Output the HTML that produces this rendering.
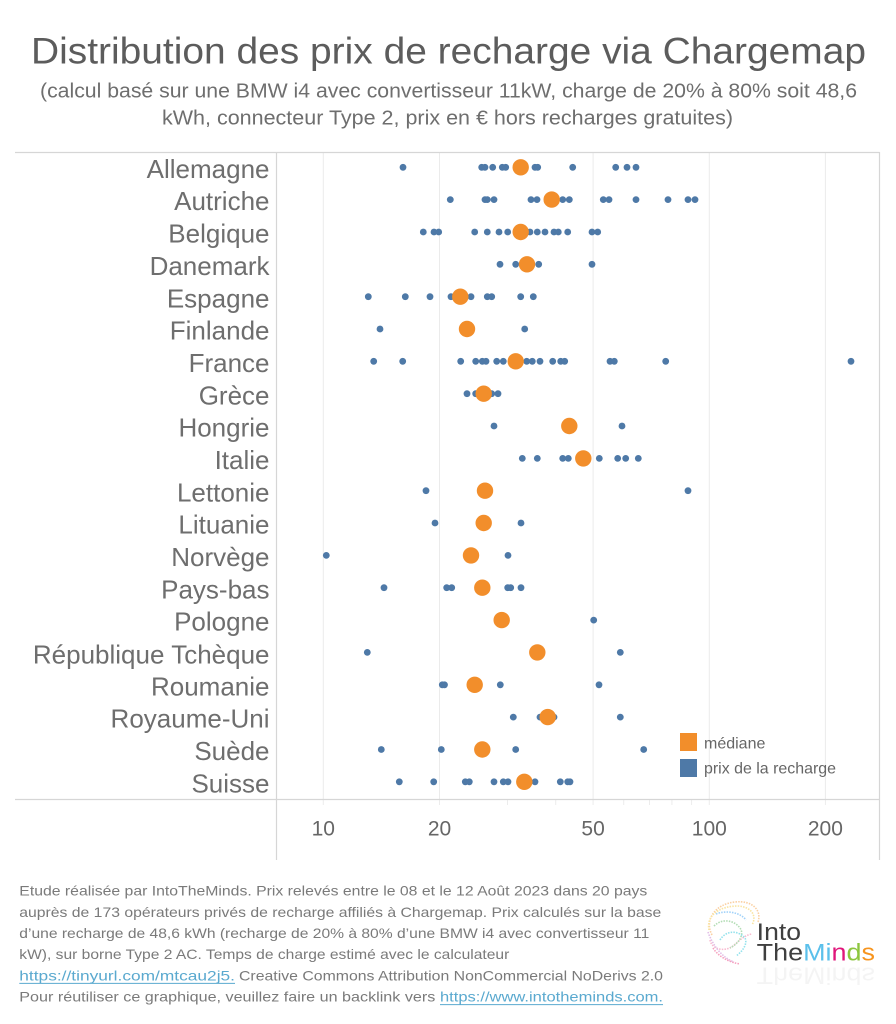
<!DOCTYPE html>
<html><head><meta charset="utf-8"><style>
html,body{margin:0;padding:0;background:#fff;}
svg{display:block;}
text{font-family:"Liberation Sans",sans-serif;}
</style></head><body>
<svg width="896" height="1024" viewBox="0 0 896 1024" xmlns="http://www.w3.org/2000/svg">
<rect width="896" height="1024" fill="#fff"/>
<!-- Title -->
<text x="31" y="63.3" font-size="37" fill="#5c5c5c" textLength="835" lengthAdjust="spacingAndGlyphs">Distribution des prix de recharge via Chargemap</text>
<text x="40" y="97.3" font-size="20" fill="#6e6e6e" textLength="817" lengthAdjust="spacingAndGlyphs">(calcul basé sur une BMW i4 avec convertisseur 11kW, charge de 20% à 80% soit 48,6</text>
<text x="162" y="124.5" font-size="20" fill="#6e6e6e" textLength="571" lengthAdjust="spacingAndGlyphs">kWh, connecteur Type 2, prix en € hors recharges gratuites)</text>

<!-- gridlines -->
<g stroke="#ebebeb" stroke-width="1">
<line x1="323.3" y1="153" x2="323.3" y2="799"/>
<line x1="439.5" y1="153" x2="439.5" y2="799"/>
<line x1="593.1" y1="153" x2="593.1" y2="799"/>
<line x1="709.3" y1="153" x2="709.3" y2="799"/>
<line x1="825.4" y1="153" x2="825.4" y2="799"/>
</g>
<!-- minor ticks on axis -->
<g stroke="#ececec" stroke-width="1">
<line x1="323.3" y1="800" x2="323.3" y2="805"/>
<line x1="439.5" y1="800" x2="439.5" y2="805"/>
<line x1="507.5" y1="800" x2="507.5" y2="805"/>
<line x1="555.7" y1="800" x2="555.7" y2="805"/>
<line x1="593.1" y1="800" x2="593.1" y2="805"/>
<line x1="623.7" y1="800" x2="623.7" y2="805"/>
<line x1="649.5" y1="800" x2="649.5" y2="805"/>
<line x1="671.9" y1="800" x2="671.9" y2="805"/>
<line x1="691.6" y1="800" x2="691.6" y2="805"/>
<line x1="709.3" y1="800" x2="709.3" y2="805"/>
<line x1="825.4" y1="800" x2="825.4" y2="805"/>
</g>
<!-- frame -->
<g stroke="#d6d6d6" stroke-width="1.2" fill="none">
<line x1="15" y1="152.5" x2="879.5" y2="152.5"/>
<line x1="15" y1="799.5" x2="879.5" y2="799.5"/>
<line x1="276.5" y1="152" x2="276.5" y2="860"/>
<line x1="879.5" y1="152" x2="879.5" y2="860"/>
</g>

<!-- Country labels -->
<g font-size="26" fill="#6e6e6e" text-anchor="end">
<text x="269.5" y="177.9">Allemagne</text>
<text x="269.5" y="210.2">Autriche</text>
<text x="269.5" y="242.6">Belgique</text>
<text x="269.5" y="274.9">Danemark</text>
<text x="269.5" y="307.3">Espagne</text>
<text x="269.5" y="339.6">Finlande</text>
<text x="269.5" y="371.9">France</text>
<text x="269.5" y="404.3">Grèce</text>
<text x="269.5" y="436.6">Hongrie</text>
<text x="269.5" y="469.0">Italie</text>
<text x="269.5" y="501.3">Lettonie</text>
<text x="269.5" y="533.6">Lituanie</text>
<text x="269.5" y="566.0">Norvège</text>
<text x="269.5" y="598.3">Pays-bas</text>
<text x="269.5" y="630.7">Pologne</text>
<text x="269.5" y="663.3">République Tchèque</text>
<text x="269.5" y="695.3">Roumanie</text>
<text x="269.5" y="727.7">Royaume-Uni</text>
<text x="269.5" y="760.0">Suède</text>
<text x="269.5" y="792.3">Suisse</text>
</g>

<!-- blue dots -->
<g fill="#4e79a7">
<circle cx="403" cy="167.3" r="3.4"/><circle cx="481.7" cy="167.3" r="3.4"/><circle cx="485" cy="167.3" r="3.4"/><circle cx="492.7" cy="167.3" r="3.4"/><circle cx="502.3" cy="167.3" r="3.4"/><circle cx="505.7" cy="167.3" r="3.4"/><circle cx="535" cy="167.3" r="3.4"/><circle cx="537.7" cy="167.3" r="3.4"/><circle cx="572.7" cy="167.3" r="3.4"/><circle cx="615.7" cy="167.3" r="3.4"/><circle cx="627" cy="167.3" r="3.4"/><circle cx="636" cy="167.3" r="3.4"/>
<circle cx="450.3" cy="199.6" r="3.4"/><circle cx="485" cy="199.6" r="3.4"/><circle cx="487.3" cy="199.6" r="3.4"/><circle cx="494" cy="199.6" r="3.4"/><circle cx="531" cy="199.6" r="3.4"/><circle cx="537" cy="199.6" r="3.4"/><circle cx="562.7" cy="199.6" r="3.4"/><circle cx="569.3" cy="199.6" r="3.4"/><circle cx="603.3" cy="199.6" r="3.4"/><circle cx="609" cy="199.6" r="3.4"/><circle cx="636" cy="199.6" r="3.4"/><circle cx="668" cy="199.6" r="3.4"/><circle cx="688" cy="199.6" r="3.4"/><circle cx="695" cy="199.6" r="3.4"/>
<circle cx="423.3" cy="232" r="3.4"/><circle cx="434" cy="232" r="3.4"/><circle cx="438.7" cy="232" r="3.4"/><circle cx="474.7" cy="232" r="3.4"/><circle cx="487.3" cy="232" r="3.4"/><circle cx="499" cy="232" r="3.4"/><circle cx="507.7" cy="232" r="3.4"/><circle cx="530" cy="232" r="3.4"/><circle cx="537.3" cy="232" r="3.4"/><circle cx="545" cy="232" r="3.4"/><circle cx="554" cy="232" r="3.4"/><circle cx="558.3" cy="232" r="3.4"/><circle cx="567.7" cy="232" r="3.4"/><circle cx="592" cy="232" r="3.4"/><circle cx="597.7" cy="232" r="3.4"/>
<circle cx="500" cy="264.3" r="3.4"/><circle cx="515.7" cy="264.3" r="3.4"/><circle cx="538.7" cy="264.3" r="3.4"/><circle cx="592" cy="264.3" r="3.4"/>
<circle cx="368.3" cy="296.7" r="3.4"/><circle cx="405.3" cy="296.7" r="3.4"/><circle cx="430" cy="296.7" r="3.4"/><circle cx="451" cy="296.7" r="3.4"/><circle cx="471" cy="296.7" r="3.4"/><circle cx="487.3" cy="296.7" r="3.4"/><circle cx="491.7" cy="296.7" r="3.4"/><circle cx="520.7" cy="296.7" r="3.4"/><circle cx="533.3" cy="296.7" r="3.4"/>
<circle cx="380" cy="329" r="3.4"/><circle cx="524.7" cy="329" r="3.4"/>
<circle cx="373.7" cy="361.3" r="3.4"/><circle cx="402.7" cy="361.3" r="3.4"/><circle cx="460.7" cy="361.3" r="3.4"/><circle cx="475.7" cy="361.3" r="3.4"/><circle cx="482.3" cy="361.3" r="3.4"/><circle cx="486" cy="361.3" r="3.4"/><circle cx="496.7" cy="361.3" r="3.4"/><circle cx="503.3" cy="361.3" r="3.4"/><circle cx="526.7" cy="361.3" r="3.4"/><circle cx="532.3" cy="361.3" r="3.4"/><circle cx="540" cy="361.3" r="3.4"/><circle cx="552.7" cy="361.3" r="3.4"/><circle cx="560.7" cy="361.3" r="3.4"/><circle cx="564.7" cy="361.3" r="3.4"/><circle cx="610" cy="361.3" r="3.4"/><circle cx="614.3" cy="361.3" r="3.4"/><circle cx="665.7" cy="361.3" r="3.4"/><circle cx="851" cy="361.3" r="3.4"/>
<circle cx="467" cy="393.7" r="3.4"/><circle cx="475.7" cy="393.7" r="3.4"/><circle cx="491.7" cy="393.7" r="3.4"/><circle cx="498" cy="393.7" r="3.4"/>
<circle cx="494" cy="426" r="3.4"/><circle cx="622" cy="426" r="3.4"/>
<circle cx="522.3" cy="458.4" r="3.4"/><circle cx="537.3" cy="458.4" r="3.4"/><circle cx="562.7" cy="458.4" r="3.4"/><circle cx="568.3" cy="458.4" r="3.4"/><circle cx="599.3" cy="458.4" r="3.4"/><circle cx="617.7" cy="458.4" r="3.4"/><circle cx="625.7" cy="458.4" r="3.4"/><circle cx="638.3" cy="458.4" r="3.4"/>
<circle cx="426" cy="490.7" r="3.4"/><circle cx="688" cy="490.7" r="3.4"/>
<circle cx="435" cy="523" r="3.4"/><circle cx="521" cy="523" r="3.4"/>
<circle cx="326.3" cy="555.4" r="3.4"/><circle cx="508" cy="555.4" r="3.4"/>
<circle cx="384" cy="587.7" r="3.4"/><circle cx="446.7" cy="587.7" r="3.4"/><circle cx="451.7" cy="587.7" r="3.4"/><circle cx="507.7" cy="587.7" r="3.4"/><circle cx="510.7" cy="587.7" r="3.4"/><circle cx="521" cy="587.7" r="3.4"/>
<circle cx="593.7" cy="620.1" r="3.4"/>
<circle cx="367.3" cy="652.4" r="3.4"/><circle cx="620.3" cy="652.4" r="3.4"/>
<circle cx="442.3" cy="684.8" r="3.4"/><circle cx="444.5" cy="684.8" r="3.4"/><circle cx="500.3" cy="684.8" r="3.4"/><circle cx="599" cy="684.8" r="3.4"/>
<circle cx="513.3" cy="717.1" r="3.4"/><circle cx="540" cy="717.1" r="3.4"/><circle cx="554" cy="717.1" r="3.4"/><circle cx="620.3" cy="717.1" r="3.4"/>
<circle cx="381.3" cy="749.5" r="3.4"/><circle cx="441.3" cy="749.5" r="3.4"/><circle cx="515.7" cy="749.5" r="3.4"/><circle cx="643.7" cy="749.5" r="3.4"/>
<circle cx="399.3" cy="781.8" r="3.4"/><circle cx="433.7" cy="781.8" r="3.4"/><circle cx="465.3" cy="781.8" r="3.4"/><circle cx="469.3" cy="781.8" r="3.4"/><circle cx="494" cy="781.8" r="3.4"/><circle cx="503.3" cy="781.8" r="3.4"/><circle cx="508" cy="781.8" r="3.4"/><circle cx="535" cy="781.8" r="3.4"/><circle cx="560.3" cy="781.8" r="3.4"/><circle cx="567.7" cy="781.8" r="3.4"/><circle cx="570" cy="781.8" r="3.4"/>
</g>

<!-- medians -->
<g fill="#f28e2b">
<circle cx="520.7" cy="167.3" r="8.2"/>
<circle cx="551.7" cy="199.6" r="8.2"/>
<circle cx="520.7" cy="232" r="8.2"/>
<circle cx="527" cy="264.3" r="8.2"/>
<circle cx="460.3" cy="296.7" r="8.2"/>
<circle cx="467" cy="329" r="8.2"/>
<circle cx="515.7" cy="361.3" r="8.2"/>
<circle cx="483.7" cy="393.7" r="8.2"/>
<circle cx="569.3" cy="426" r="8.2"/>
<circle cx="583.3" cy="458.4" r="8.2"/>
<circle cx="485" cy="490.7" r="8.2"/>
<circle cx="483.7" cy="523" r="8.2"/>
<circle cx="471" cy="555.4" r="8.2"/>
<circle cx="482.3" cy="587.7" r="8.2"/>
<circle cx="501.7" cy="620.1" r="8.2"/>
<circle cx="537.3" cy="652.4" r="8.2"/>
<circle cx="474.7" cy="684.8" r="8.2"/>
<circle cx="547.7" cy="717.1" r="8.2"/>
<circle cx="482.3" cy="749.5" r="8.2"/>
<circle cx="524.3" cy="781.8" r="8.2"/>
</g>

<!-- Legend -->
<rect x="680" y="733" width="17" height="18" fill="#f28e2b"/>
<rect x="680" y="759" width="17" height="18" fill="#4e79a7"/>
<text x="704" y="748.3" font-size="16" fill="#666">médiane</text>
<text x="704" y="773.3" font-size="16" fill="#666" textLength="132" lengthAdjust="spacingAndGlyphs">prix de la recharge</text>

<!-- X axis labels -->
<g font-size="21" fill="#666" text-anchor="middle">
<text x="323.3" y="835.7">10</text>
<text x="439.5" y="835.7">20</text>
<text x="593.1" y="835.7">50</text>
<text x="709.3" y="835.7">100</text>
<text x="825.4" y="835.7">200</text>
</g>

<!-- Footer -->
<g font-size="14" fill="#7a7a7a">
<text x="19.3" y="895.5" textLength="628" lengthAdjust="spacingAndGlyphs">Etude réalisée par IntoTheMinds. Prix relevés entre le 08 et le 12 Août 2023 dans 20 pays</text>
<text x="19.3" y="916.8" textLength="642" lengthAdjust="spacingAndGlyphs">auprès de 173 opérateurs privés de recharge affiliés à Chargemap. Prix calculés sur la base</text>
<text x="19.3" y="938" textLength="630" lengthAdjust="spacingAndGlyphs">d’une recharge de 48,6 kWh (recharge de 20% à 80% d’une BMW i4 avec convertisseur 11</text>
<text x="19.3" y="959.2" textLength="490" lengthAdjust="spacingAndGlyphs">kW), sur borne Type 2 AC. Temps de charge estimé avec le calculateur</text>
<text x="19.3" y="980.4" fill="#5aa9cf" textLength="215.7" lengthAdjust="spacingAndGlyphs">https://tinyurl.com/mtcau2j5.</text>
<text x="239" y="980.4" textLength="424" lengthAdjust="spacingAndGlyphs">Creative Commons Attribution NonCommercial NoDerivs 2.0</text>
<text x="19.3" y="1001.6" textLength="416" lengthAdjust="spacingAndGlyphs">Pour réutiliser ce graphique, veuillez faire un backlink vers</text>
<text x="440" y="1001.6" fill="#5aa9cf" textLength="223" lengthAdjust="spacingAndGlyphs">https://www.intotheminds.com.</text>
</g>
<line x1="19.3" y1="983.4" x2="235" y2="983.4" stroke="#5aa9cf" stroke-width="1"/>
<line x1="440" y1="1004.6" x2="663" y2="1004.6" stroke="#5aa9cf" stroke-width="1"/>

<!-- Logo -->
<g fill="none" stroke-width="1.6" stroke-dasharray="1.5 1.2" opacity="0.6">
<path d="M712 935 C704 920 715 904 735 902 C752 900 762 910 758 922" stroke="#f7b267"/>
<path d="M709 930 C706 915 720 906 738 906 C752 907 757 916 752 925" stroke="#f6d365"/>
<path d="M710 940 C712 950 725 952 733 946 C740 940 745 935 752 934" stroke="#f48fb1"/>
<path d="M714 926 C722 918 734 920 740 928 C745 935 738 944 730 948" stroke="#81c784"/>
<path d="M708 932 C712 944 722 958 734 962" stroke="#ce93d8"/>
<path d="M716 914 C726 910 740 912 746 920" stroke="#64b5f6"/>
<path d="M720 940 C726 930 738 930 745 938 C748 944 742 952 736 956" stroke="#4dd0e1"/>
<path d="M713 948 C718 956 728 962 740 964" stroke="#f06292"/>
</g>
<text x="756.7" y="940" font-size="24" fill="#3f3f3f" textLength="44.3" lengthAdjust="spacingAndGlyphs">Into</text>
<text x="756.7" y="960.7" font-size="24" textLength="118.3" lengthAdjust="spacingAndGlyphs"><tspan fill="#3f3f3f">The</tspan><tspan fill="#5bc0eb">Mi</tspan><tspan fill="#e0157a">n</tspan><tspan fill="#8dc63f">d</tspan><tspan fill="#f7941d">s</tspan></text>
<g opacity="0.05" transform="translate(0,1928) scale(1,-1)">
<text x="756.7" y="960.7" font-size="24" fill="#3f3f3f" textLength="118.3" lengthAdjust="spacingAndGlyphs">TheMinds</text>
</g>
</svg>
</body></html>
